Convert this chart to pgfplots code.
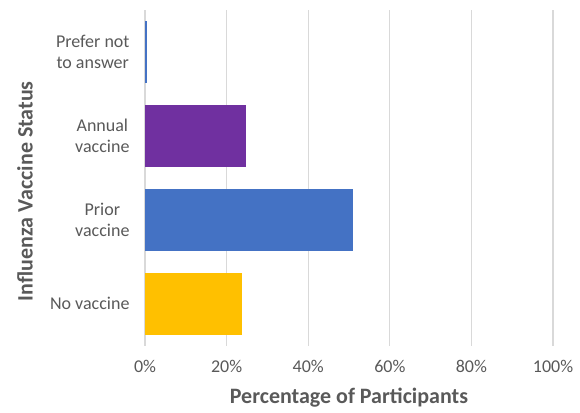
\documentclass[border=0pt]{standalone}
\usepackage{fontspec}
\setmainfont{Carlito}
\usepackage{pgfplots}
\pgfplotsset{compat=1.18}

\definecolor{tickgray}{HTML}{595959}
\definecolor{gridgray}{HTML}{D9D9D9}
\definecolor{barblue}{HTML}{4472C4}
\definecolor{barpurple}{HTML}{7030A0}
\definecolor{baryellow}{HTML}{FFC000}

\begin{document}
\begin{tikzpicture}[x=1bp,y=1bp]
\useasboundingbox (0,0) rectangle (580,412);
\begin{axis}[
  at={(145bp,66.3bp)}, anchor=south west,
  scale only axis,
  width=408bp, height=336bp,
  xbar, bar width=62bp, bar shift=0pt,
  xmin=0, xmax=100,
  ymin=-0.5, ymax=3.5,
  xtick={0,20,...,100},
  ytick={0,1,2,3},
  yticklabels={No vaccine, {Prior\\vaccine}, {Annual\\vaccine}, {Prefer not\\to answer}},
  /pgf/number format/assume math mode=true,
  xticklabel={\pgfmathprintnumber{\tick}\%},
  xmajorgrids,
  grid style={gridgray, line width=1.3bp},
  axis line style={draw=none},
  major tick length=0pt,
  tick label style={font=\fontsize{18bp}{21bp}\selectfont, text=tickgray},
  yticklabel style={align=center, xshift=-12bp},
  xticklabel style={yshift=-11bp},
  xlabel={Percentage of Participants},
  ylabel={Influenza Vaccine Status},
  label style={font=\bfseries\fontsize{22bp}{24bp}\selectfont, text=tickgray},
  xlabel style={at={(axis description cs:0.5,-0.156)}, anchor=center},
  ylabel style={at={(axis description cs:-0.294,0.46)}, anchor=center, rotate=0},
  clip=false,
]
\addplot[fill=baryellow, draw=none] coordinates {(23.8,0)};
\addplot[fill=barblue, draw=none] coordinates {(51.0,1)};
\addplot[fill=barpurple, draw=none] coordinates {(24.7,2)};
\addplot[fill=barblue, draw=none] coordinates {(0.4,3)};
\end{axis}
\end{tikzpicture}
\end{document}
